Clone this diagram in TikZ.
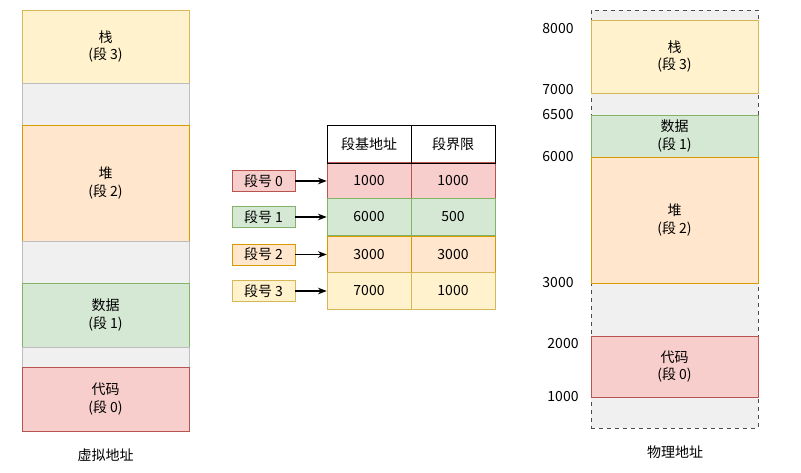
\documentclass[tikz,border=0pt]{standalone}
\usepackage{fontspec}
\setmainfont{Noto Sans CJK SC}
\usetikzlibrary{positioning,arrows.meta}
\definecolor{ylwF}{HTML}{FFF2CC}\definecolor{ylwD}{HTML}{D6B656}
\definecolor{orgF}{HTML}{FFE6CC}\definecolor{orgD}{HTML}{D79B00}
\definecolor{grnF}{HTML}{D5E8D4}\definecolor{grnD}{HTML}{82B366}
\definecolor{redF}{HTML}{F8CECC}\definecolor{redD}{HTML}{B85450}
\definecolor{gryF}{HTML}{F0F0F0}\definecolor{gryD}{HTML}{BDBDBD}
\begin{document}
\begin{tikzpicture}[x=0.75pt,y=-0.75pt,
    >=Stealth,
    font=\fontsize{10.5}{13}\selectfont,
    seg/.style={draw, align=center, inner sep=0pt},
    yel/.style={seg, fill=ylwF, draw=ylwD},
    org/.style={seg, fill=orgF, draw=orgD},
    grn/.style={seg, fill=grnF, draw=grnD},
    red/.style={seg, fill=redF, draw=redD},
    gry/.style={seg, fill=gryF, draw=gryD},
    tag/.style={draw, minimum width=47pt, minimum height=15.5pt, inner sep=0pt},
    addr/.style={anchor=center},
    arrow/.style={->, thick},
]
    \useasboundingbox (0,0) rectangle (801,473);

    % Virtual address space
    \node[yel] (vstack) at (105.5,46.5) [minimum width=125.25pt, minimum height=54.75pt] {栈\\(段 3)};
    \node[gry] (vgap1) at (105.5,104) [minimum width=125.25pt, minimum height=31.5pt] {};
    \node[org] (vheap) at (105.5,183) [minimum width=125.25pt, minimum height=87pt] {堆\\(段 2)};
    \node[gry] (vgap2) at (105.5,262) [minimum width=125.25pt, minimum height=31.5pt] {};
    \node[grn] (vdata) at (105.5,315) [minimum width=125.25pt, minimum height=48pt] {数据\\(段 1)};
    \node[gry] (vgap3) at (105.5,357) [minimum width=125.25pt, minimum height=15pt] {};
    \node[red] (vcode) at (105.5,399) [minimum width=125.25pt, minimum height=48pt] {代码\\(段 0)};
    \node (vlabel) at (105.5,455) {虚拟地址};

    % Segment table
    \foreach \y/\st/\b/\l [count=\i from 0] in {181/red/1000/1000, 217/grn/6000/500, 254.5/org/3000/3000, 291/yel/7000/1000} {
        \node[\st, minimum width=63pt, minimum height=27.5pt] (base\i) at (369,\y) {\b};
        \node[\st, minimum width=63pt, minimum height=27.5pt] (lim\i) at (453,\y) {\l};
        \node[\st, tag] (seg\i) at (263.5,\y) {段号 \i};
        \draw[arrow] (seg\i) -- (base\i);
    }
    \node[seg, minimum width=63pt, minimum height=28.5pt] (hbase) at (369,144) {段基地址};
    \node[seg, minimum width=63pt, minimum height=28.5pt] (hlim) at (453,144) {段界限};

    % Physical address space
    \node[seg, fill=gryF, draw=black!70, dashed, minimum width=125.25pt, minimum height=313.5pt] (pmem) at (674.5,219) {};
    \node[yel] (pstack) at (674.5,56.5) [minimum width=125.25pt, minimum height=54.75pt] {栈\\(段 3)};
    \node[grn] (pdata) at (674.5,136) [minimum width=125.25pt, minimum height=31.5pt] {数据\\(段 1)};
    \node[org] (pheap) at (674.5,220) [minimum width=125.25pt, minimum height=94.5pt] {堆\\(段 2)};
    \node[red] (pcode) at (674.5,366.5) [minimum width=125.25pt, minimum height=45.75pt] {代码\\(段 0)};
    \node (plabel) at (675,452) {物理地址};

    \node[addr] (a8000) at (558,29) {8000};
    \node[addr] (a7000) at (558,90) {7000};
    \node[addr] (a6500) at (558,115) {6500};
    \node[addr] (a6000) at (558,157) {6000};
    \node[addr] (a3000) at (558,283) {3000};
    \node[addr] (a2000) at (563,344) {2000};
    \node[addr] (a1000) at (563,397) {1000};
\end{tikzpicture}
\end{document}
